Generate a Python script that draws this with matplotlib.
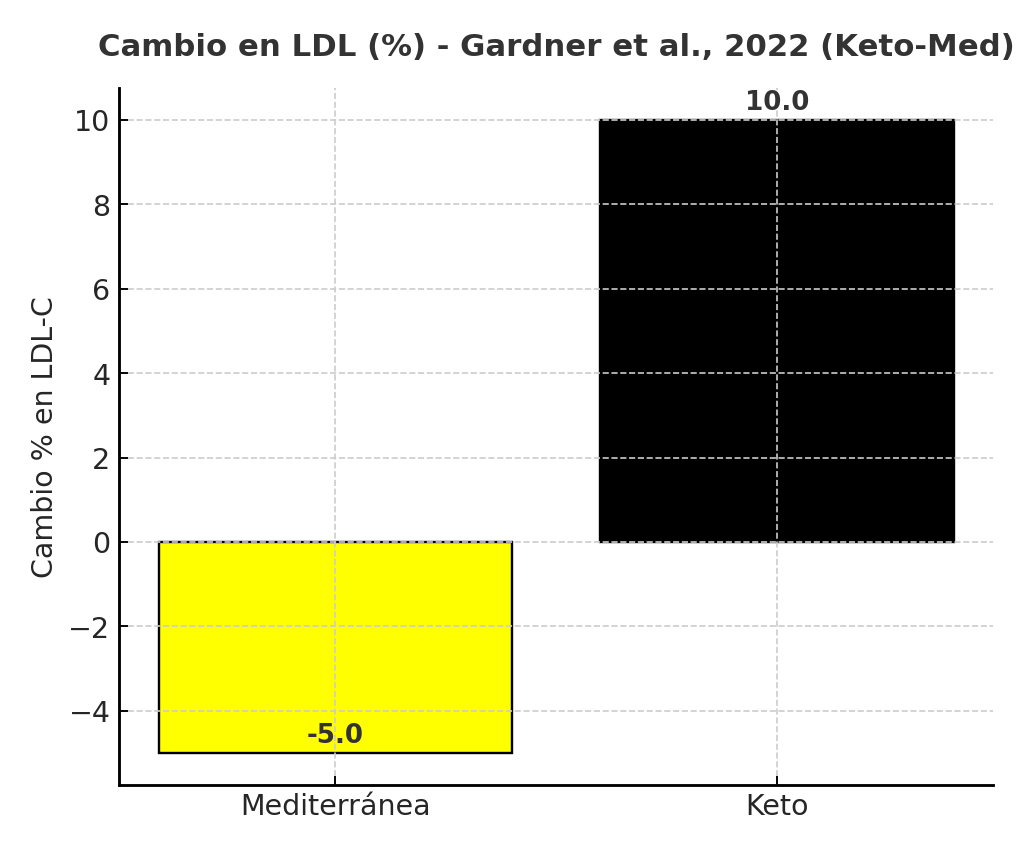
import matplotlib.pyplot as plt

dietas = ["Mediterránea", "Keto"]
cambio_ldl = [-5.0, 10.0]
colores = ["yellow", "black"]

fig, ax = plt.subplots(figsize=(6, 5), dpi=1024 / 6)
fig.subplots_adjust(left=0.116, right=0.970, top=0.896, bottom=0.080)

bars = ax.bar(dietas, cambio_ldl, color=colores, edgecolor="black", linewidth=1)

for bar, val in zip(bars, cambio_ldl):
	ax.text(bar.get_x() + bar.get_width() / 2, val + 0.1, f"{val:.1f}",
		ha="center", va="bottom", fontsize=11, fontweight="bold", color="#333333")

ax.set_title("Cambio en LDL (%) - Gardner et al., 2022 (Keto-Med)",
	fontsize=13, fontweight="bold", color="#333333", pad=14)
ax.set_ylabel("Cambio % en LDL-C", fontsize=12, color="#262626")
ax.grid(True, linestyle="--", color="#cccccc", linewidth=0.7)
ax.set_axisbelow(False)
ax.tick_params(direction="in", labelsize=12, labelcolor="#262626", length=4)
for side in ("top", "right"):
	ax.spines[side].set_visible(False)
for side in ("left", "bottom"):
	ax.spines[side].set_linewidth(1.2)

plt.savefig("out.png")
